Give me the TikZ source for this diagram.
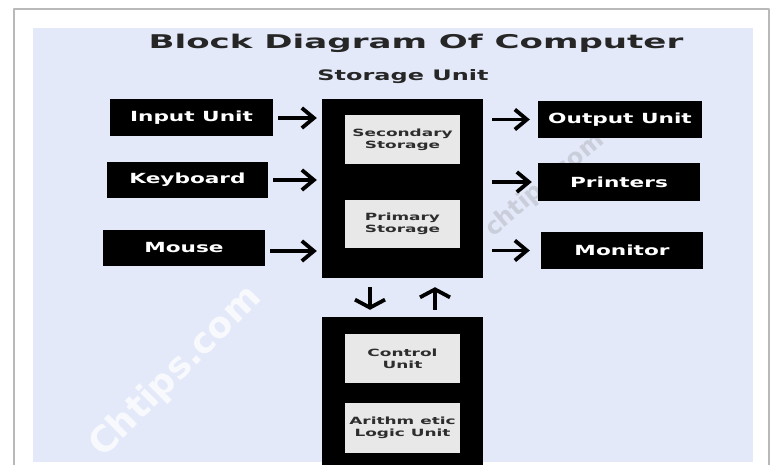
\documentclass[tikz,border=0pt]{standalone}
\usepackage{fontspec}
\setmainfont{DejaVu Sans}
\usetikzlibrary{arrows.meta}
\definecolor{pagebg}{RGB}{228,233,250}
\definecolor{cellbg}{RGB}{232,232,232}
\definecolor{celltxt}{RGB}{45,45,45}
\newcommand{\widetxt}[2][1.55]{\scalebox{#1}[1]{#2}}
\begin{document}
\begin{tikzpicture}[x=1bp,y=-1bp,line join=round,
	blk/.style={fill=black,text=white,inner sep=0pt,font=\bfseries\fontsize{14}{16}\selectfont},
	cell/.style={fill=cellbg,text=celltxt,inner sep=0pt,align=center,font=\bfseries\fontsize{10}{12}\selectfont},
	flow/.style={line width=3.8bp,-{Straight Barb[length=12bp,width=20bp]},shorten <=5bp,shorten >=5bp},
	vflow/.style={flow,-{Straight Barb[length=8bp,width=30bp]}}]
	\useasboundingbox (0,0) rectangle (774,465);
	\fill[white] (0,0) rectangle (774,465);
	\draw[gray!55,line width=1.5bp] (14,9) rectangle (769,475);
	\fill[pagebg] (33,28) rectangle (753,462);
	% watermarks
	\node[rotate=45,text=white,opacity=0.75,font=\bfseries\fontsize{36}{36}\selectfont] (wm1) at (176,372) {Chtips.com};
	\node[rotate=40,text=gray,opacity=0.25,font=\bfseries\fontsize{24}{24}\selectfont] (wm2) at (545,185) {chtips.com};
	% headings
	\node[font=\bfseries\fontsize{19}{22}\selectfont,text=black!85] (title) at (416,43) {\widetxt[1.8]{Block Diagram Of Computer}};
	\node[font=\bfseries\fontsize{14.5}{16}\selectfont,text=black!85] (stlabel) at (403,77) {\widetxt[1.66]{Storage Unit}};
	% storage unit
	\node[blk,minimum width=161bp,minimum height=179bp] (stor) at (402.5,188.5) {};
	\node[cell,minimum width=115bp,minimum height=49bp] (sec) at (402.5,139.5) {\widetxt[1.7]{Secondary}\\\widetxt[1.7]{Storage}};
	\node[cell,minimum width=115bp,minimum height=48bp] (pri) at (402.5,224) {\widetxt[1.7]{Primary}\\\widetxt[1.7]{Storage}};
	% inputs
	\node[blk,minimum width=163bp,minimum height=37bp] (inp) at (191.5,118) {\widetxt{Input Unit}};
	\node[blk,minimum width=161bp,minimum height=36bp] (kbd) at (187.5,180) {\widetxt{Keyboard}};
	\node[blk,minimum width=162bp,minimum height=36bp] (mse) at (184,248) {\widetxt{Mouse}};
	% outputs
	\node[blk,minimum width=164bp,minimum height=37bp] (out) at (620,119.5) {\widetxt{Output Unit}};
	\node[blk,minimum width=162bp,minimum height=38bp] (prn) at (619,182) {\widetxt{Printers}};
	\node[blk,minimum width=162bp,minimum height=37bp] (mon) at (622,250.5) {\widetxt{Monitor}};
	% cpu
	\node[blk,minimum width=161bp,minimum height=150bp] (cpu) at (402.5,392) {};
	\node[cell,minimum width=115bp,minimum height=49bp] (ctl) at (402.5,358.5) {\widetxt[1.7]{Control}\\\widetxt[1.7]{Unit}};
	\node[cell,minimum width=115bp,minimum height=50bp] (alu) at (402.5,428) {\widetxt[1.7]{Arithm etic}\\\widetxt[1.7]{Logic Unit}};
	% connectors
	\draw[flow] (inp.east) -- (inp.east -| stor.west);
	\draw[flow] (kbd.east) -- (kbd.east -| stor.west);
	\draw[flow] ([yshift=-3bp]mse.east) -- ([yshift=-3bp]mse.east -| stor.west);
	\draw[flow,shorten <=9bp,shorten >=8bp] (out.west -| stor.east) -- (out.west);
	\draw[flow,shorten <=9bp,shorten >=6bp] (prn.west -| stor.east) -- (prn.west);
	\draw[flow,shorten <=9bp,shorten >=11bp] (mon.west -| stor.east) -- (mon.west);
	\draw[vflow,shorten <=9bp,shorten >=7bp] ([xshift=-32.5bp]stor.south) -- ([xshift=-32.5bp]cpu.north);
	\draw[vflow,shorten <=7bp,shorten >=9bp] ([xshift=32.5bp]cpu.north) -- ([xshift=32.5bp]stor.south);
\end{tikzpicture}
\end{document}
